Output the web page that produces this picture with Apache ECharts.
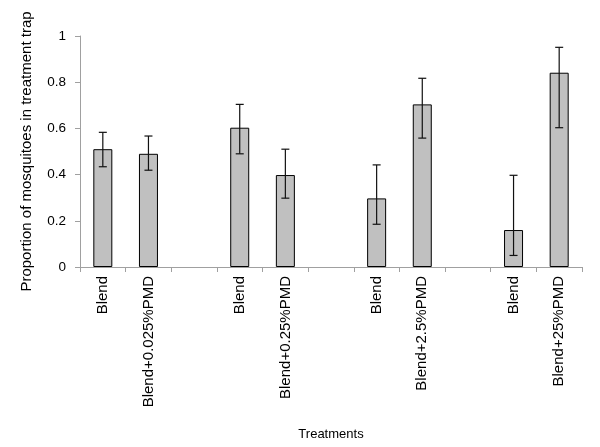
<!DOCTYPE html>
<html><head><meta charset="utf-8">
<script src="https://cdn.jsdelivr.net/npm/echarts@6/dist/echarts.min.js"></script>
<style>html,body{margin:0;padding:0;background:#fff}#c{width:600px;height:447px}</style>
</head><body><div id="c"></div>
<script>
var categories = ['Blend','Blend+0.025%PMD','','Blend','Blend+0.25%PMD','','Blend','Blend+2.5%PMD','','Blend','Blend+25%PMD'];
var values   = [0.51, 0.49, null, 0.603, 0.398, null, 0.297, 0.704, null, 0.16, 0.841];
var errLow   = [0.434, 0.419, null, 0.49, 0.298, null, 0.185, 0.558, null, 0.05, 0.603];
var errHigh  = [0.583, 0.567, null, 0.704, 0.51, null, 0.442, 0.817, null, 0.397, 0.951];
var yTicks = [0, 0.2, 0.4, 0.6, 0.8, 1];

var errData = [];
for (var i = 0; i < categories.length; i++) {
  if (values[i] !== null) errData.push([i, errLow[i], errHigh[i]]);
}
var chart = echarts.init(document.getElementById('c'));
chart.setOption({
  animation: false,
  textStyle: {fontFamily: 'Liberation Sans, Arial, sans-serif'},
  grid: {left: 80, right: 18, top: 36, bottom: 180},
  xAxis: {
    type: 'category', data: categories,
    name: 'Treatments', nameLocation: 'middle', nameGap: 161,
    nameTextStyle: {fontSize: 13, color: '#000', fontFamily: 'Liberation Sans'},
    axisLine: {lineStyle: {color: '#a0a0a0'}},
    axisTick: {show: true, length: 5, lineStyle: {color: '#a0a0a0'}},
    axisLabel: {rotate: 90, interval: 0, fontSize: 15, color: '#000', margin: 9, fontFamily: 'Liberation Sans'}
  },
  yAxis: {
    type: 'value', min: yTicks[0], max: yTicks[yTicks.length-1], interval: 0.2,
    name: 'Proportion of mosquitoes in treatment trap', nameLocation: 'middle', nameGap: 46,
    nameTextStyle: {fontSize: 15, color: '#000', fontFamily: 'Liberation Sans'},
    splitLine: {show: false},
    axisLine: {show: true, lineStyle: {color: '#a0a0a0'}},
    axisTick: {show: true, length: 5, lineStyle: {color: '#a0a0a0'}},
    axisLabel: {fontSize: 13.5, color: '#000', margin: 14, fontFamily: 'Liberation Sans'}
  },
  series: [{
    type: 'bar', data: values, barWidth: 19,
    itemStyle: {color: '#c0c0c0', borderColor: '#000', borderWidth: 1}
  }, {
    type: 'custom', data: errData,
    renderItem: function (params, api) {
      var x = api.value(0);
      var lo = api.coord([x, api.value(1)]);
      var hi = api.coord([x, api.value(2)]);
      var w = 4;
      var st = {stroke: '#111', lineWidth: 1.2};
      return {type: 'group', children: [
        {type: 'line', shape: {x1: lo[0], y1: lo[1], x2: hi[0], y2: hi[1]}, style: st},
        {type: 'line', shape: {x1: lo[0]-w, y1: lo[1], x2: lo[0]+w, y2: lo[1]}, style: st},
        {type: 'line', shape: {x1: hi[0]-w, y1: hi[1], x2: hi[0]+w, y2: hi[1]}, style: st}
      ]};
    },
    z: 10
  }]
});
</script></body></html>
